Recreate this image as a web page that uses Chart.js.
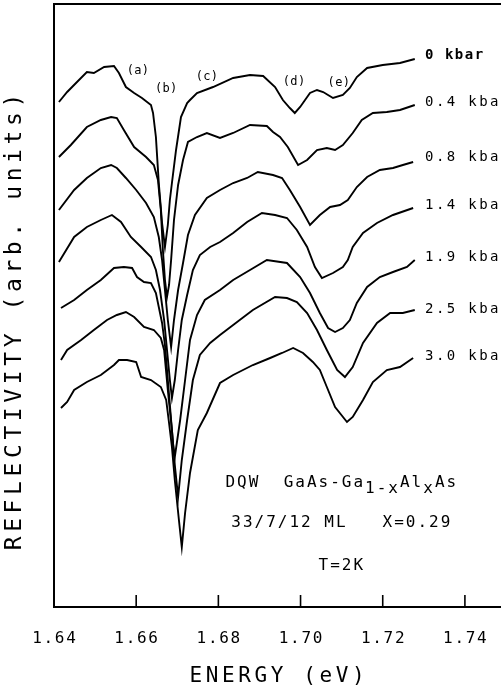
<!DOCTYPE html>
<html>
<head>
<meta charset="utf-8">
<script src="https://cdn.jsdelivr.net/npm/chart.js@4/dist/chart.umd.min.js"></script>
<style>
  html, body { margin: 0; padding: 0; background: #fff; overflow: hidden; }
  #wrap { position: relative; width: 520px; height: 694px; }
</style>
</head>
<body>
<div id="wrap"><canvas id="refl-chart"></canvas></div>
<script>
// reflectivity spectra, one trace per pressure (top to bottom)
const pressures = ['0 kbar', '0.4 kbar', '0.8 kbar', '1.4 kbar', '1.9 kbar', '2.5 kbar', '3.0 kbar'];

const energy0 = [1.6412,1.6432,1.6456,1.6480,1.6497,1.6522,1.6546,1.6558,1.6575,1.6595,1.6614,1.6636,1.6641,1.6648,1.6655,1.6663,1.6670,1.6677,1.6682,1.6687,1.6697,1.6709,1.6724,1.6731,1.6748,1.6787,1.6836,1.6877,1.6909,1.6938,1.6957,1.6974,1.6986,1.6999,1.7023,1.7040,1.7055,1.7079,1.7103,1.7120,1.7137,1.7162,1.7200,1.7242,1.7278];
const refl0 = [5.05,5.15,5.25,5.35,5.34,5.40,5.41,5.34,5.20,5.14,5.09,5.02,4.94,4.70,4.24,3.84,3.60,3.82,4.07,4.24,4.57,4.90,5.04,5.07,5.14,5.20,5.29,5.32,5.31,5.20,5.07,4.99,4.94,5.00,5.14,5.17,5.15,5.09,5.12,5.19,5.30,5.39,5.42,5.44,5.48];

const energy1 = [1.6412,1.6441,1.6480,1.6514,1.6539,1.6553,1.6570,1.6595,1.6624,1.6643,1.6653,1.6660,1.6665,1.6670,1.6675,1.6680,1.6685,1.6692,1.6702,1.6714,1.6726,1.6748,1.6772,1.6804,1.6836,1.6877,1.6918,1.6933,1.6950,1.6969,1.6994,1.7016,1.7040,1.7064,1.7084,1.7103,1.7127,1.7149,1.7176,1.7210,1.7242,1.7278];
const refl1 = [4.50,4.62,4.80,4.87,4.90,4.89,4.77,4.60,4.50,4.42,4.27,3.97,3.57,3.27,3.10,3.22,3.47,3.87,4.22,4.47,4.65,4.70,4.74,4.69,4.74,4.82,4.81,4.75,4.70,4.60,4.42,4.47,4.57,4.59,4.57,4.62,4.74,4.87,4.94,4.95,4.97,5.02];

const energy2 = [1.6412,1.6449,1.6480,1.6514,1.6539,1.6553,1.6575,1.6600,1.6624,1.6643,1.6655,1.6663,1.6670,1.6677,1.6685,1.6692,1.6702,1.6714,1.6726,1.6743,1.6772,1.6804,1.6836,1.6870,1.6896,1.6933,1.6955,1.6974,1.6999,1.7023,1.7047,1.7072,1.7096,1.7115,1.7137,1.7162,1.7193,1.7225,1.7249,1.7274];
const refl2 = [3.97,4.17,4.29,4.39,4.42,4.39,4.29,4.17,4.04,3.90,3.70,3.47,3.17,2.87,2.60,2.87,3.17,3.44,3.72,3.92,4.09,4.17,4.24,4.29,4.35,4.32,4.29,4.17,4.00,3.82,3.92,4.00,4.02,4.07,4.20,4.30,4.37,4.39,4.42,4.45];

const energy3 = [1.6412,1.6449,1.6480,1.6514,1.6541,1.6563,1.6587,1.6612,1.6636,1.6648,1.6658,1.6668,1.6675,1.6682,1.6687,1.6694,1.6702,1.6711,1.6724,1.6738,1.6755,1.6780,1.6804,1.6836,1.6870,1.6906,1.6938,1.6967,1.6991,1.7016,1.7035,1.7052,1.7079,1.7103,1.7115,1.7127,1.7152,1.7186,1.7225,1.7274];
const refl3 = [3.45,3.70,3.80,3.87,3.92,3.85,3.70,3.60,3.50,3.37,3.17,2.87,2.57,2.27,2.09,2.27,2.57,2.87,3.12,3.37,3.52,3.60,3.65,3.74,3.85,3.94,3.92,3.89,3.77,3.60,3.40,3.29,3.34,3.40,3.47,3.60,3.74,3.84,3.92,3.99];

const energy4 = [1.6417,1.6449,1.6480,1.6514,1.6546,1.6570,1.6590,1.6602,1.6619,1.6636,1.6648,1.6655,1.6663,1.6670,1.6677,1.6685,1.6690,1.6694,1.6707,1.6719,1.6731,1.6748,1.6767,1.6804,1.6836,1.6877,1.6918,1.6967,1.6999,1.7023,1.7047,1.7067,1.7084,1.7103,1.7120,1.7137,1.7162,1.7193,1.7225,1.7259,1.7278];
const refl4 = [2.99,3.07,3.17,3.27,3.39,3.40,3.39,3.30,3.25,3.24,3.14,3.00,2.84,2.62,2.27,1.87,1.62,1.50,1.87,2.27,2.67,2.92,3.07,3.17,3.27,3.37,3.47,3.44,3.30,3.14,2.94,2.79,2.75,2.79,2.87,3.04,3.20,3.30,3.35,3.40,3.47];

const energy5 = [1.6417,1.6432,1.6466,1.6497,1.6529,1.6553,1.6575,1.6595,1.6619,1.6643,1.6660,1.6668,1.6677,1.6687,1.6694,1.6702,1.6711,1.6724,1.6738,1.6755,1.6780,1.6804,1.6836,1.6884,1.6938,1.6967,1.6991,1.7016,1.7040,1.7064,1.7089,1.7108,1.7127,1.7152,1.7186,1.7218,1.7249,1.7278];
const refl5 = [2.47,2.57,2.67,2.77,2.87,2.92,2.95,2.90,2.80,2.77,2.69,2.57,2.17,1.77,1.42,1.10,1.47,1.87,2.27,2.52,2.64,2.72,2.82,2.97,3.10,3.09,3.05,2.94,2.77,2.57,2.37,2.30,2.40,2.64,2.84,2.94,2.94,2.97];

const energy6 = [1.6417,1.6432,1.6449,1.6480,1.6514,1.6546,1.6558,1.6578,1.6600,1.6612,1.6636,1.6660,1.6673,1.6680,1.6687,1.6694,1.6704,1.6711,1.6719,1.6731,1.6750,1.6772,1.6804,1.6836,1.6884,1.6926,1.6955,1.6982,1.7006,1.7030,1.7047,1.7064,1.7084,1.7113,1.7127,1.7152,1.7176,1.7210,1.7242,1.7274];
const refl6 = [1.99,2.05,2.17,2.25,2.32,2.42,2.47,2.47,2.45,2.30,2.27,2.20,2.07,1.84,1.60,1.27,0.87,0.60,0.94,1.34,1.77,1.94,2.24,2.32,2.42,2.49,2.54,2.59,2.54,2.45,2.37,2.20,2.00,1.85,1.90,2.07,2.25,2.37,2.40,2.49];

const energyTicks = [1.64, 1.66, 1.68, 1.70, 1.72, 1.74];

// exciton labels (a)-(e) and where they sit
const peakNames = ['(a)', '(b)', '(c)', '(d)', '(e)'];
const peakEnergy = [1.6604, 1.6673, 1.6772, 1.6984, 1.7093];
const peakLevel = [5.36, 5.18, 5.30, 5.25, 5.24];
const pressureLabelEnergy = 1.7303;
const pressureLabelLevel = [5.52, 5.05, 4.50, 4.02, 3.50, 2.98, 2.51];

const energies = [energy0, energy1, energy2, energy3, energy4, energy5, energy6];
const refls = [refl0, refl1, refl2, refl3, refl4, refl5, refl6];

const MONO = '"DejaVu Sans Mono", monospace';

function spacedText(ctx, str, cx, cy, font, spacing, align) {
  ctx.font = font;
  ctx.letterSpacing = spacing + 'px';
  ctx.textAlign = 'left';
  ctx.textBaseline = 'middle';
  let w = ctx.measureText(str).width - spacing;
  let x0 = align === 'left' ? cx : cx - w / 2;
  ctx.fillText(str, x0, cy);
}

const plotterText = {
  id: 'plotterText',
  afterDraw(chart) {
    const {ctx, chartArea} = chart;
    const x = chart.scales.x, y = chart.scales.y;
    ctx.save();
    ctx.fillStyle = '#000';
    ctx.strokeStyle = '#000';

    // inward tick marks on the energy axis
    ctx.lineWidth = 1.6;
    energyTicks.slice(1).forEach(v => {
      const px = x.getPixelForValue(v);
      ctx.beginPath();
      ctx.moveTo(px, chartArea.bottom);
      ctx.lineTo(px, chartArea.bottom - 12);
      ctx.stroke();
    });

    energyTicks.forEach(v => {
      spacedText(ctx, v.toFixed(2), x.getPixelForValue(v), chartArea.bottom + 32, '16px ' + MONO, 1.7);
    });

    spacedText(ctx, 'ENERGY (eV)', 277, 677, '21px ' + MONO, 3.6);

    ctx.save();
    ctx.translate(15, 322);
    ctx.rotate(-Math.PI / 2);
    spacedText(ctx, 'REFLECTIVITY (arb. units)', 0, 0, '23px ' + MONO, 4.6);
    ctx.restore();

    // pressure labels at the end of each trace
    pressures.forEach((p, i) => {
      const font = (i === 0 ? 'bold ' : '') + '14px ' + MONO;
      spacedText(ctx, p, x.getPixelForValue(pressureLabelEnergy), y.getPixelForValue(pressureLabelLevel[i]), font, i === 0 ? 1.5 : 2.4, 'left');
    });

    peakNames.forEach((n, i) => {
      spacedText(ctx, n, x.getPixelForValue(peakEnergy[i]), y.getPixelForValue(peakLevel[i]), '12px ' + MONO, 0.3);
    });

    // sample description block
    const cx = x.getPixelForValue(1.7098);
    const font = '16px ' + MONO, sp = 2;
    const segs = [['DQW  GaAs-Ga', 0], ['1-x', 6], ['Al', 0], ['x', 6], ['As', 0]];
    ctx.font = font;
    ctx.letterSpacing = sp + 'px';
    let total = segs.reduce((s, g) => s + ctx.measureText(g[0]).width, 0) - sp;
    let sx = cx - total / 2;
    const ly = y.getPixelForValue(1.24);
    segs.forEach(g => {
      spacedText(ctx, g[0], sx, ly + g[1], font, sp, 'left');
      sx += ctx.measureText(g[0]).width;
    });
    spacedText(ctx, '33/7/12 ML   X=0.29', cx, y.getPixelForValue(0.84), font, sp);
    spacedText(ctx, 'T=2K', cx, y.getPixelForValue(0.41), font, sp);

    ctx.restore();
  }
};

const datasets = pressures.map((p, i) => ({
  label: p,
  data: energies[i].map((e, k) => ({x: e, y: refls[i][k]})),
  borderColor: '#000',
  borderWidth: 1.9,
  pointRadius: 0,
  tension: 0,
  fill: false
}));

const hiddenGrid = { display: false, drawTicks: false };

new Chart(document.getElementById('refl-chart'), {
  type: 'line',
  data: { datasets: datasets },
  options: {
    responsive: true,
    maintainAspectRatio: false,
    animation: false,
    layout: { padding: { left: 54, right: 14, top: 4, bottom: 87 } },
    plugins: { legend: { display: false }, tooltip: { enabled: false } },
    scales: {
      x: {
        type: 'linear', position: 'bottom', min: 1.64, max: 1.75,
        afterBuildTicks: s => { s.ticks = energyTicks.map(v => ({value: v})); },
        ticks: { display: false },
        grid: hiddenGrid,
        border: { color: '#000', width: 2 }
      },
      xTop: {
        type: 'linear', position: 'top', min: 1.64, max: 1.75,
        ticks: { display: false },
        grid: hiddenGrid,
        border: { color: '#000', width: 2 }
      },
      y: {
        type: 'linear', min: 0, max: 6.03,
        ticks: { display: false },
        grid: hiddenGrid,
        border: { color: '#000', width: 2 }
      }
    }
  },
  plugins: [plotterText]
});
</script>
</body>
</html>
